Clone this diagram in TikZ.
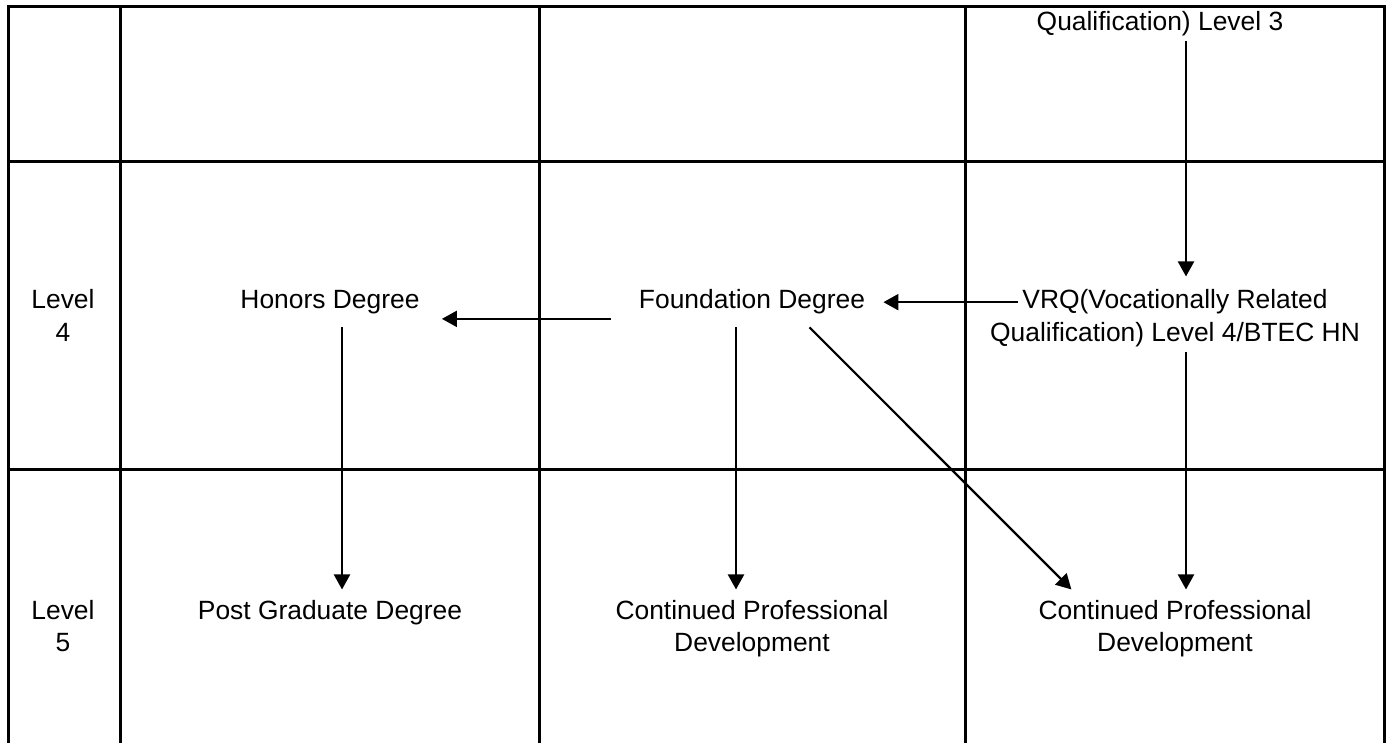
\documentclass[tikz,border=0pt]{standalone}
\usepackage{fontspec}
\setmainfont{Liberation Sans}
\usetikzlibrary{arrows.meta}
\begin{document}
\begin{tikzpicture}[x=0.5pt,y=-0.5pt,
      every node/.style={font=\fontsize{13.2}{16.5}\selectfont,align=center,anchor=base,inner sep=2pt},
      grid/.style={line width=1.5pt,line cap=rect},
      arr/.style={line width=1.1pt,-{Triangle[length=7.5pt,width=8pt]}}]
      \useasboundingbox (0,0) rectangle (1389,743);
      \draw[grid] (8.5,6.5)--(1384,6.5);
      \draw[grid] (8.5,162)--(1384,162);
      \draw[grid] (8.5,470)--(1384,470);
      \foreach \x in {8.5,120.5,539,965,1384}
        \draw[grid] (\x,6.5)--(\x,743);
      \node (lvlthree) at (1160,31) {Qualification) Level 3};
      \node (lvfour) at (63,342) {Level\\4};
      \node (lvfive) at (63,652) {Level\\5};
      \node (honors) at (330,309) {Honors Degree};
      \node (found) at (752,309) {Foundation Degree};
      \node (vrqa) at (1175,309) {VRQ(Vocationally Related};
      \node (vrqb) at (1175,342) {Qualification) Level 4/BTEC HN};
      \node (postgrad) at (330,619) {Post Graduate Degree};
      \node (cpdmid) at (752,652) {Continued Professional\\Development};
      \node (cpdright) at (1175,652) {Continued Professional\\Development};
      \draw[arr,shorten >=4.5pt] ([xshift=13pt]lvlthree.south) -- ([xshift=5.5pt]vrqa.north);
      \draw[arr,shorten >=7pt] (vrqa.west) -- (found.east);
      \draw[arr,shorten <=12pt,shorten >=9pt] (found.south west) -- (honors.south east);
      \draw[arr,shorten <=4pt,shorten >=3pt] ([xshift=6pt]honors.south) -- ([xshift=6pt]postgrad.north);
      \draw[arr,shorten <=4pt,shorten >=3pt] ([xshift=-8pt]found.south) -- ([xshift=-8pt]cpdmid.north);
      \draw[arr,shorten <=6pt,shorten >=4.25pt] ([xshift=24.5pt]found.south) -- ([xshift=-48.8pt]cpdright.north);
      \draw[arr,shorten >=3pt] ([xshift=5.5pt]vrqb.south) -- ([xshift=5.5pt]cpdright.north);
\end{tikzpicture}
\end{document}
